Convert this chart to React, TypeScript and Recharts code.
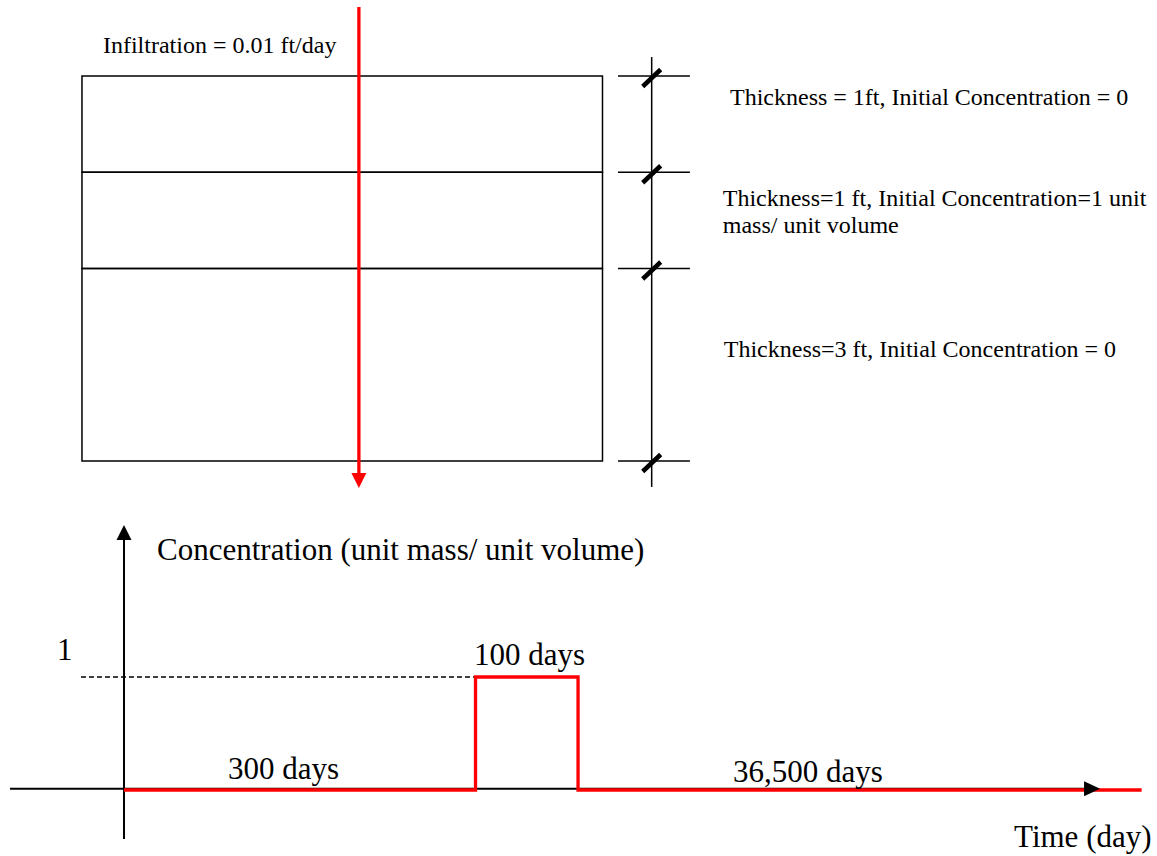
import React from 'react';
import {
  ComposedChart,
  Line,
  XAxis,
  YAxis,
  ReferenceArea,
  ReferenceLine,
  ReferenceDot,
} from 'recharts';

// ---- soil column ----
const infiltrationLabel = 'Infiltration = 0.01 ft/day';
const layerThicknessFt = [1, 1, 3];
// depth of each layer as drawn in the sketch (the 3 ft layer is drawn compressed)
const layerSketchDepth = [1, 1, 2];
const layerLabels = [
  ['Thickness = 1ft, Initial Concentration = 0'],
  ['Thickness=1 ft, Initial Concentration=1 unit', 'mass/ unit volume'],
  ['Thickness=3 ft, Initial Concentration = 0'],
];

// ---- source concentration history ----
const phaseLabels = ['300 days', '100 days', '36,500 days'];
const phaseDays = [300, 100, 36500];
const phaseConcentration = [0, 1, 0];
// time axis is a sketch, not to scale: drawn length of each phase in axis units
const phaseAxisSpan = [300, 87.5, 481];

const yAxisTitle = 'Concentration (unit mass/ unit volume)';
const xAxisTitle = 'Time (day)';
const peakTickLabel = '1';

const layerBounds = layerSketchDepth.reduce<number[]>(
  (acc, d) => [...acc, acc[acc.length - 1] + d],
  [0]
);
const phaseStarts = phaseAxisSpan.reduce<number[]>(
  (acc, d) => [...acc, acc[acc.length - 1] + d],
  [0]
);
const stepData = phaseConcentration.flatMap((c, i) => [
  { t: phaseStarts[i], c },
  { t: phaseStarts[i + 1], c },
]);

const W = 1157;
const TOP_H = 500;
const BOT_H = 356;
const serif = '"Liberation Serif", "Times New Roman", serif';
const RED = '#ff0000';

const textShape = (lines: string[], size: number, gap = 0) => (p: any) => (
  <text x={p.cx} y={p.cy} fontSize={size} fontFamily={serif} fill="#000">
    {lines.map((l, i) => (
      <tspan key={i} x={p.cx} dy={i === 0 ? 0 : gap}>
        {l}
      </tspan>
    ))}
  </text>
);

const downHead = (color: string, w: number, h: number) => (p: any) => (
  <polygon
    points={`${p.cx - w / 2},${p.cy - h} ${p.cx + w / 2},${p.cy - h} ${p.cx},${p.cy}`}
    fill={color}
  />
);
const upHead = (w: number, h: number) => (p: any) => (
  <polygon
    points={`${p.cx - w / 2},${p.cy + h} ${p.cx + w / 2},${p.cy + h} ${p.cx},${p.cy}`}
    fill="#000"
  />
);
const rightHead = (w: number, h: number) => (p: any) => (
  <polygon
    points={`${p.cx - w},${p.cy - h / 2} ${p.cx - w},${p.cy + h / 2} ${p.cx},${p.cy}`}
    fill="#000"
  />
);
const slash = (p: any) => (
  <line x1={p.cx - 9} y1={p.cy + 10.5} x2={p.cx + 9} y2={p.cy - 6.5} stroke="#000" strokeWidth={4.5} />
);

const SoilColumn = () => {
  // x in fractions of the column width, y in sketch depth
  const arrowX = 0.532;
  const dimX = 1.0945;
  const labelPos = [
    { x: 1.245, y: 0.301 },
    { x: 1.231, y: 1.348 },
    { x: 1.233, y: 2.916 },
  ];
  const layerRows = layerSketchDepth.map((d, i) => ({ x: 0.5, d: layerBounds[i] + d / 2 }));
  return (
    <ComposedChart width={W} height={TOP_H} data={layerRows} margin={{ top: 0, right: 0, bottom: 0, left: 0 }}>
      <XAxis type="number" dataKey="x" domain={[-0.1575, 2.0653]} allowDataOverflow hide />
      <YAxis type="number" domain={[-0.7896, 4.4052]} reversed allowDataOverflow hide />

      {layerSketchDepth.map((_, i) => (
        <ReferenceArea
          key={i}
          x1={0}
          x2={1}
          y1={layerBounds[i]}
          y2={layerBounds[i + 1]}
          fill="none"
          stroke="#000"
          strokeWidth={1.5}
          ifOverflow="visible"
        />
      ))}

      {/* dimension line with ticks */}
      <ReferenceLine
        segment={[{ x: dimX, y: -0.197 }, { x: dimX, y: 4.27 }]}
        stroke="#000"
        strokeWidth={1.5}
        ifOverflow="visible"
      />
      {layerBounds.map((b, i) => (
        <ReferenceLine
          key={`t${i}`}
          segment={[{ x: 1.0298, y: b }, { x: 1.168, y: b }]}
          stroke="#000"
          strokeWidth={1.5}
          ifOverflow="visible"
        />
      ))}
      {layerBounds.map((b, i) => (
        <ReferenceDot key={`s${i}`} x={dimX} y={b} r={0} shape={slash} ifOverflow="visible" />
      ))}

      <ReferenceDot x={0.0403} y={-0.239} r={0} shape={textShape([infiltrationLabel], 24)} ifOverflow="visible" />
      {layerLabels.map((lines, i) => (
        <ReferenceDot
          key={`l${i}`}
          x={labelPos[i].x}
          y={labelPos[i].y}
          r={0}
          shape={textShape(lines, 24, 27.6)}
          ifOverflow="visible"
        />
      ))}

      {/* infiltration arrow */}
      <ReferenceLine
        segment={[{ x: arrowX, y: -0.717 }, { x: arrowX, y: 4.13 }]}
        stroke={RED}
        strokeWidth={3.3}
        ifOverflow="visible"
      />
      <ReferenceDot x={arrowX} y={4.281} r={0} shape={downHead(RED, 15, 15)} ifOverflow="visible" />
    </ComposedChart>
  );
};

const SourceHistory = () => {
  const labelPos = [
    { x: 88.8, y: 0.095 },
    { x: 298.7, y: 1.106 },
    { x: 519.8, y: 0.073 },
  ];
  return (
    <ComposedChart width={W} height={BOT_H} data={stepData} margin={{ top: 0, right: 0, bottom: 0, left: 0 }}>
      <XAxis type="number" dataKey="t" domain={[-105.83, 881.6]} allowDataOverflow hide />
      <YAxis type="number" domain={[-0.58407, 2.5664]} allowDataOverflow hide />

      {/* axes drawn as arrows through the origin */}
      <ReferenceLine
        segment={[{ x: 0, y: -0.434 }, { x: 0, y: 2.212 }]}
        stroke="#000"
        strokeWidth={2}
        ifOverflow="visible"
      />
      <ReferenceDot x={0} y={2.345} r={0} shape={upHead(15, 15)} ifOverflow="visible" />
      <ReferenceLine
        segment={[{ x: -97.3, y: 0.012 }, { x: 819.3, y: 0.012 }]}
        stroke="#000"
        strokeWidth={2}
        ifOverflow="visible"
      />
      <ReferenceDot x={833} y={0.012} r={0} shape={rightHead(16, 15)} ifOverflow="visible" />

      <ReferenceLine
        segment={[{ x: -36.7, y: 1 }, { x: phaseStarts[1], y: 1 }]}
        stroke="#000"
        strokeWidth={1.3}
        strokeDasharray="5 3"
        ifOverflow="visible"
      />

      <ReferenceDot x={28.2} y={2.035} r={0} shape={textShape([yAxisTitle], 31)} ifOverflow="visible" />
      <ReferenceDot x={-57.2} y={1.15} r={0} shape={textShape([peakTickLabel], 31)} ifOverflow="visible" />
      {phaseLabels.map((l, i) => (
        <ReferenceDot
          key={l}
          x={labelPos[i].x}
          y={labelPos[i].y}
          r={0}
          shape={textShape([l], 31)}
          ifOverflow="visible"
        />
      ))}
      <ReferenceDot x={759.6} y={-0.5} r={0} shape={textShape([xAxisTitle], 31)} ifOverflow="visible" />

      <Line
        type="linear"
        dataKey="c"
        stroke={RED}
        strokeWidth={3.3}
        dot={false}
        activeDot={false}
        isAnimationActive={false}
      />
    </ComposedChart>
  );
};

export default function App() {
  return (
    <div style={{ width: W, height: TOP_H + BOT_H, background: '#fff' }}>
      <style>{'body{margin:0}'}</style>
      <SoilColumn />
      <SourceHistory />
    </div>
  );
}
